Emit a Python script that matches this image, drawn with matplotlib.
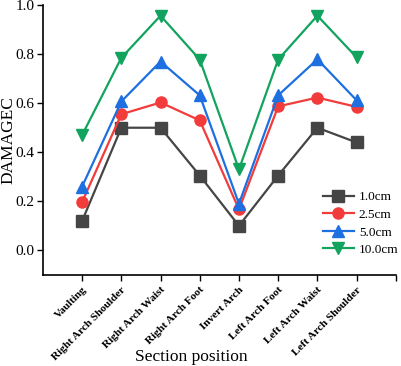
import matplotlib
matplotlib.use("Agg")
import matplotlib.pyplot as plt

categories = ["Vaulting", "Right Arch Shoulder", "Right Arch Waist", "Right Arch Foot",
              "Invert Arch", "Left Arch Foot", "Left Arch Waist", "Left Arch Shoulder"]
series_names = ["1.0cm", "2.5cm", "5.0cm", "10.0cm"]
s_10 = [0.12, 0.50, 0.50, 0.305, 0.10, 0.305, 0.50, 0.44]
s_25 = [0.197, 0.555, 0.603, 0.53, 0.167, 0.587, 0.623, 0.585]
s_50 = [0.26, 0.607, 0.77, 0.632, 0.19, 0.632, 0.779, 0.612]
s_100 = [0.47, 0.785, 0.957, 0.778, 0.33, 0.778, 0.957, 0.787]

plt.rcParams['font.family'] = ['Liberation Serif', 'DejaVu Serif']

fig = plt.figure(figsize=(4.01, 3.66), dpi=100)
ax = fig.add_axes([0.107, 0.249, 0.880, 0.737])

colors = ['#454545', '#f23b3b', '#1e6fe0', '#12a35e']
markers = ['s', 'o', '^', 'v']
data = [s_10, s_25, s_50, s_100]
x = list(range(1, len(categories) + 1))
for d, c, m, n in zip(data, colors, markers, series_names):
    ax.plot(x, d, color=c, marker=m, markersize=8, linewidth=1.6, label=n)

ax.set_xlim(0, 9)
ax.set_ylim(-0.1, 1.0)
ax.set_yticks([0.0, 0.2, 0.4, 0.6, 0.8, 1.0])
ax.set_yticklabels(["0.0", "0.2", "0.4", "0.6", "0.8", "1.0"], fontsize=11)
ax.set_xticks(x + [9])
ax.set_xticklabels(categories + [""], rotation=45, ha='right', rotation_mode='anchor',
                   fontsize=8.1, fontweight='bold')
ax.tick_params(direction='out', length=4, width=1)
ax.tick_params(axis='y', pad=2)
for s in ['top', 'right']:
    ax.spines[s].set_visible(False)
for s in ['left', 'bottom']:
    ax.spines[s].set_linewidth(1.2)

ax.set_ylabel("DAMAGEC", fontsize=12.5)
ax.yaxis.set_label_coords(-0.097, 0.5)
ax.set_xlabel("Section position", fontsize=12.5)
ax.xaxis.set_label_coords(0.42, -0.305)
ax.xaxis.label.set_va('center')
ax.yaxis.label.set_va('center')

ax.legend(loc='upper left', bbox_to_anchor=(0.793, 0.31), frameon=False, fontsize=9.5,
          handlelength=2.35, handletextpad=0.38, labelspacing=0.4, borderpad=0,
          borderaxespad=0)

fig.savefig("out.png", dpi=100)
